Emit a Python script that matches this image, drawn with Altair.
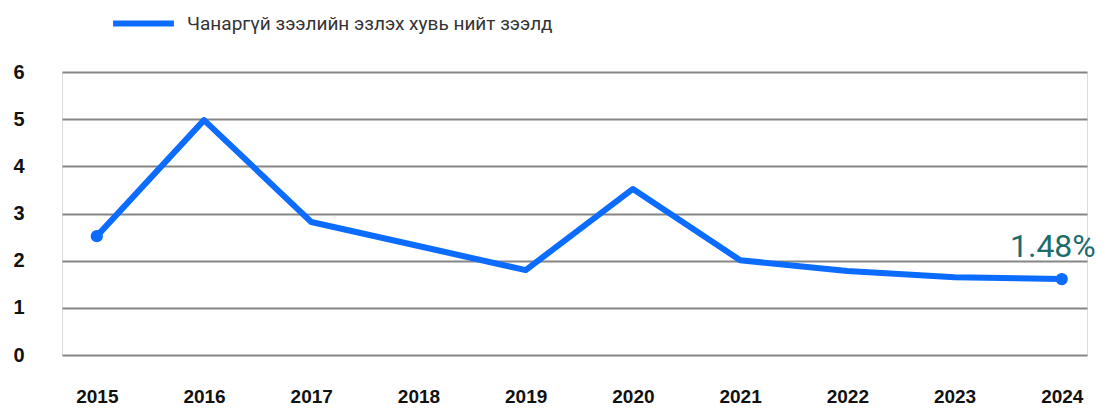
import altair as alt
import pandas as pd

years = ["2015", "2016", "2017", "2018", "2019", "2020", "2021", "2022", "2023", "2024"]
values = [2.52, 4.98, 2.82, 2.31, 1.80, 3.52, 2.01, 1.78, 1.65, 1.61]
series_name = "Чанаргүй зээлийн эзлэх хувь нийт зээлд"
end_label = "1.48%"

df = pd.DataFrame({"year": years, "value": values, "series": [series_name] * len(years)})
ends = df.iloc[[0, -1]].copy()
lab = df.iloc[[-1]].copy()
lab["label"] = [end_label]

blue = "#0b6cff"

x = alt.X("year:N", sort=years, scale=alt.Scale(type="point", padding=0.28, align=0.58),
          axis=alt.Axis(title=None, labelAngle=0, ticks=False, domain=False, grid=False,
                        labelFont="Liberation Sans", labelFontWeight="bold",
                        labelFontSize=19, labelColor="#111", labelPadding=32))
y = alt.Y("value:Q", scale=alt.Scale(domain=[0, 6]),
          axis=alt.Axis(title=None, values=[0, 1, 2, 3, 4, 5, 6], ticks=False, domain=False,
                        grid=True, gridColor="#858585", gridWidth=2,
                        labelFont="Liberation Sans", labelFontWeight="bold",
                        labelFontSize=20, labelColor="#111", labelPadding=38, format="d"))

line = alt.Chart(df).mark_line(strokeWidth=6, strokeCap="round", strokeJoin="round").encode(
    x=x, y=y,
    color=alt.Color("series:N", scale=alt.Scale(range=[blue]),
                    legend=alt.Legend(title=None, orient="none", legendX=48, legendY=-82,
                                      symbolType="stroke", symbolStrokeWidth=6, symbolSize=3700,
                                      labelFont="Roboto", labelFontSize=19, labelColor="#333",
                                      labelOffset=10, labelLimit=800)),
)
dots = alt.Chart(ends).mark_circle(size=150, opacity=1, color=blue).encode(x=x, y=y)
text = alt.Chart(lab).mark_text(align="right", baseline="alphabetic", dx=34, dy=-22,
                                fontSize=32, font="Roboto", fontWeight="normal", color="#1d6c6c").encode(
    x=x, y=y, text="label:N")

chart = (line + dots + text).properties(
    width=1025, height=283,
    padding={"left": 54, "top": 64, "right": 11, "bottom": 54},
    autosize=alt.AutoSizeParams(type="none"),
).configure_view(stroke=None).configure(background="white")

chart.save("out.html", embed_options={"renderer": "svg", "actions": False})
